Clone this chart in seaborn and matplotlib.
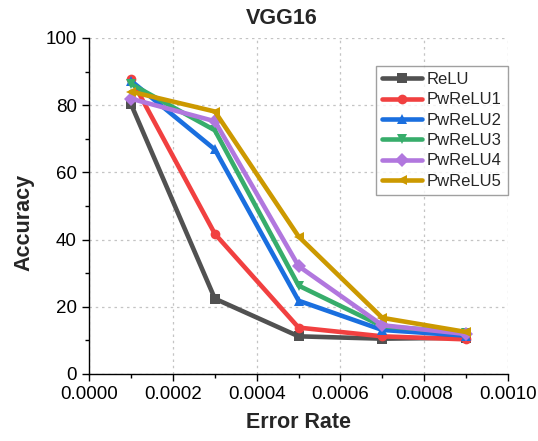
import matplotlib
matplotlib.use("Agg")
import matplotlib.pyplot as plt
from matplotlib.ticker import MultipleLocator, FormatStrFormatter
import seaborn as sns
import pandas as pd

error_rate = [0.0001, 0.0003, 0.0005, 0.0007, 0.0009]
relu = [80.2, 22.4, 11.2, 10.5, 10.8]
pwrelu1 = [87.8, 41.7, 13.8, 11.2, 10.3]
pwrelu2 = [87.2, 66.8, 21.8, 13.1, 11.4]
pwrelu3 = [86.3, 72.5, 26.3, 14.2, 12.3]
pwrelu4 = [81.9, 75.2, 32.1, 14.5, 11.9]
pwrelu5 = [84.0, 78.1, 40.9, 16.7, 12.5]

names = ["ReLU", "PwReLU1", "PwReLU2", "PwReLU3", "PwReLU4", "PwReLU5"]
series = [relu, pwrelu1, pwrelu2, pwrelu3, pwrelu4, pwrelu5]
colors = ["#515151", "#F14040", "#1A6FDF", "#37AD6B", "#B177DE", "#CC9900"]
markers = ["s", "o", "^", "v", "D", "<"]

rows = []
for n, vals in zip(names, series):
    for x, v in zip(error_rate, vals):
        rows.append({"Error Rate": x, "Accuracy": v, "Model": n})
df = pd.DataFrame(rows)

sns.set_style("white")
plt.rcParams["font.family"] = ["Liberation Sans", "DejaVu Sans"]

fig = plt.figure(figsize=(5.38, 4.41), dpi=100)
ax = fig.add_axes([0.166, 0.152, 0.778, 0.762])

sns.lineplot(data=df, x="Error Rate", y="Accuracy", hue="Model", style="Model",
             palette=dict(zip(names, colors)), markers=dict(zip(names, markers)),
             dashes=False, linewidth=3.3, markersize=7, markeredgewidth=0,
             ax=ax, legend=True)

ax.set_xlim(0, 0.001)
ax.set_ylim(0, 100)
ax.xaxis.set_major_locator(MultipleLocator(0.0002))
ax.xaxis.set_minor_locator(MultipleLocator(0.0001))
ax.yaxis.set_major_locator(MultipleLocator(20))
ax.yaxis.set_minor_locator(MultipleLocator(10))
ax.xaxis.set_major_formatter(FormatStrFormatter("%.4f"))

ax.grid(True, which="major", color="#c4c4c4", linestyle=(0, (2, 3)), linewidth=0.9)
for s in ["top", "right"]:
    ax.spines[s].set_visible(False)
for s in ["left", "bottom"]:
    ax.spines[s].set_color("black")
    ax.spines[s].set_linewidth(1.0)
ax.tick_params(which="major", direction="out", length=5, width=1, colors="black",
               labelsize=13.5, bottom=True, left=True, pad=4)
ax.tick_params(which="minor", direction="out", length=3, width=1, colors="black",
               bottom=True, left=True)

ax.set_title("VGG16", fontsize=15.5, fontweight="bold", pad=10, x=0.46)
ax.set_xlabel("Error Rate", fontsize=15.5, fontweight="bold", labelpad=6)
ax.set_ylabel("Accuracy", fontsize=15.5, fontweight="bold", labelpad=8, y=0.45)

leg = ax.legend(loc="upper right", bbox_to_anchor=(516 / 538, 1 - 58 / 441),
                bbox_transform=fig.transFigure, fontsize=12,
                frameon=True, fancybox=False, edgecolor="#888888", handlelength=2.4,
                borderpad=0.35, labelspacing=0.32, handletextpad=0.3)
leg.get_frame().set_linewidth(1.0)
for h in leg.get_lines():
    h.set_linewidth(3.3)

fig.savefig("out.png", dpi=100)
